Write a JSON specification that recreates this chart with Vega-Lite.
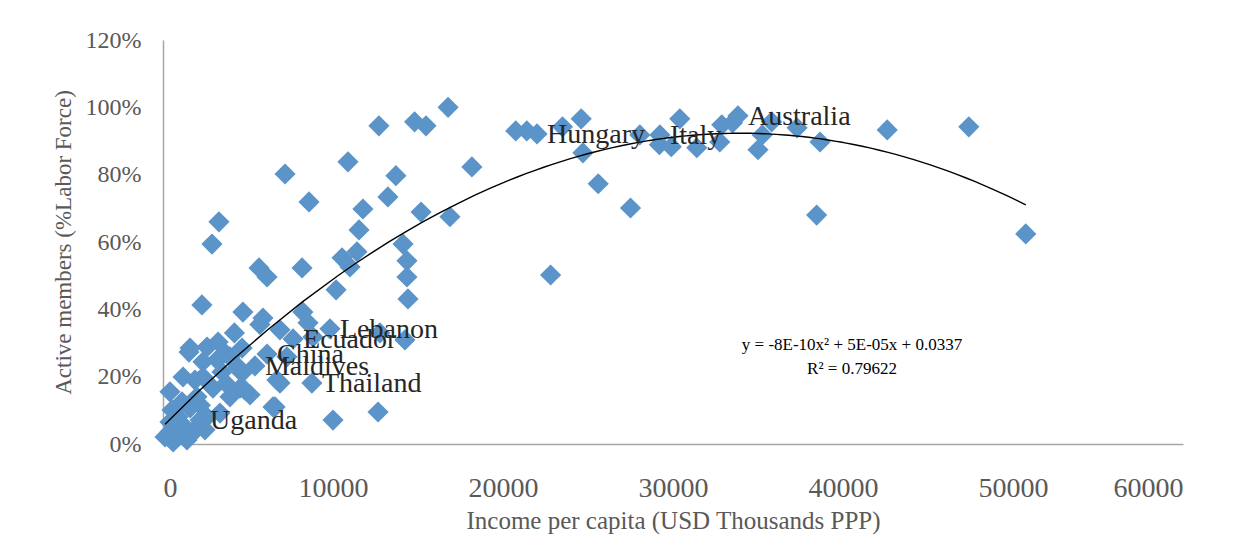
{
  "$schema": "https://vega.github.io/schema/vega-lite/v6.json",
  "autosize": {"type": "none"},
  "padding": {"left": 163, "top": 40, "right": 77, "bottom": 95},
  "width": 1020,
  "height": 404,
  "background": "white",
  "config": {
    "view": {"stroke": null},
    "font": "Liberation Serif",
    "axis": {"labelFont": "Liberation Serif", "titleFont": "Liberation Serif", "labelColor": "#595959", "titleColor": "#595959", "titleFontWeight": "normal", "domainColor": "#a6a6a6", "domainWidth": 1.5, "ticks": false, "grid": false}
  },
  "datasets": {
    "pts": [
      {"x": 16770, "y": 1.0}, {"x": 14800, "y": 0.957}, {"x": 15470, "y": 0.945}, {"x": 12700, "y": 0.945},
      {"x": 20750, "y": 0.93}, {"x": 21400, "y": 0.93}, {"x": 23500, "y": 0.942}, {"x": 24600, "y": 0.966},
      {"x": 24700, "y": 0.865}, {"x": 18170, "y": 0.823}, {"x": 10880, "y": 0.838}, {"x": 7180, "y": 0.802},
      {"x": 13700, "y": 0.797}, {"x": 8590, "y": 0.719}, {"x": 13230, "y": 0.734}, {"x": 11760, "y": 0.698},
      {"x": 11530, "y": 0.636}, {"x": 15180, "y": 0.689}, {"x": 16880, "y": 0.675}, {"x": 25600, "y": 0.773},
      {"x": 27500, "y": 0.701}, {"x": 22800, "y": 0.502}, {"x": 14120, "y": 0.594}, {"x": 14350, "y": 0.544},
      {"x": 14350, "y": 0.496}, {"x": 14410, "y": 0.431}, {"x": 28050, "y": 0.918}, {"x": 29200, "y": 0.889},
      {"x": 29900, "y": 0.883}, {"x": 30400, "y": 0.966}, {"x": 31400, "y": 0.88}, {"x": 32750, "y": 0.897},
      {"x": 32870, "y": 0.948}, {"x": 33500, "y": 0.954}, {"x": 35000, "y": 0.874}, {"x": 35250, "y": 0.918},
      {"x": 35800, "y": 0.957}, {"x": 37300, "y": 0.939}, {"x": 38650, "y": 0.897}, {"x": 38450, "y": 0.68},
      {"x": 42600, "y": 0.933}, {"x": 47400, "y": 0.942}, {"x": 50750, "y": 0.624}, {"x": 3290, "y": 0.66},
      {"x": 2880, "y": 0.594}, {"x": 5650, "y": 0.523}, {"x": 6120, "y": 0.496}, {"x": 8180, "y": 0.523},
      {"x": 10530, "y": 0.553}, {"x": 11000, "y": 0.526}, {"x": 11410, "y": 0.571}, {"x": 10180, "y": 0.458},
      {"x": 2290, "y": 0.413}, {"x": 4700, "y": 0.392}, {"x": 5880, "y": 0.374}, {"x": 6880, "y": 0.339},
      {"x": 8230, "y": 0.392}, {"x": 8530, "y": 0.36}, {"x": 12760, "y": 0.33}, {"x": 14230, "y": 0.309},
      {"x": 8820, "y": 0.318}, {"x": 7290, "y": 0.259}, {"x": 6880, "y": 0.181}, {"x": 6470, "y": 0.11},
      {"x": 10000, "y": 0.071}, {"x": 12650, "y": 0.095}, {"x": 5700, "y": 0.355},
      {"x": 1530, "y": 0.273}, {"x": 2590, "y": 0.288}, {"x": 3240, "y": 0.303}, {"x": 3650, "y": 0.27},
      {"x": 2350, "y": 0.244}, {"x": 3180, "y": 0.25}, {"x": 4650, "y": 0.211}, {"x": 3470, "y": 0.214},
      {"x": 4530, "y": 0.166}, {"x": 3940, "y": 0.14}, {"x": 5120, "y": 0.146}, {"x": 2940, "y": 0.166},
      {"x": 2000, "y": 0.14}, {"x": 410, "y": 0.155}, {"x": 1120, "y": 0.125}, {"x": 1590, "y": 0.107},
      {"x": 530, "y": 0.101}, {"x": 3350, "y": 0.092}, {"x": 2590, "y": 0.08}, {"x": 410, "y": 0.065},
      {"x": 1180, "y": 0.056}, {"x": 2000, "y": 0.05}, {"x": 410, "y": 0.036}, {"x": 820, "y": 0.021},
      {"x": 1410, "y": 0.012}, {"x": 1760, "y": 0.033}, {"x": 2470, "y": 0.042}, {"x": 120, "y": 0.021},
      {"x": 6700, "y": 0.19}, {"x": 6590, "y": 0.11}, {"x": 1590, "y": 0.285}, {"x": 4650, "y": 0.285},
      {"x": 3940, "y": 0.259}, {"x": 4410, "y": 0.229}, {"x": 4820, "y": 0.16}, {"x": 2350, "y": 0.199},
      {"x": 1880, "y": 0.19}, {"x": 1180, "y": 0.199}, {"x": 880, "y": 0.08}, {"x": 1400, "y": 0.03},
      {"x": 2200, "y": 0.115}, {"x": 600, "y": 0.006}, {"x": 4200, "y": 0.33}, {"x": 3700, "y": 0.18},
      {"x": 2180, "y": 0.071, "label": "Uganda"},
      {"x": 8760, "y": 0.181, "label": "Thailand"},
      {"x": 5410, "y": 0.232, "label": "Maldives"},
      {"x": 6120, "y": 0.267, "label": "China"},
      {"x": 7650, "y": 0.312, "label": "Ecuador"},
      {"x": 9820, "y": 0.342, "label": "Lebanon"},
      {"x": 22000, "y": 0.921, "label": "Hungary"},
      {"x": 29230, "y": 0.918, "label": "Italy"},
      {"x": 33820, "y": 0.975, "label": "Australia"}
    ],
    "eq": [
      {"x": 40530, "y": 0.294, "text": "y = -8E-10x² + 5E-05x + 0.0337"},
      {"x": 40530, "y": 0.222, "text": "R² = 0.79622"}
    ]
  },
  "layer": [
    {
      "data": {"name": "pts"},
      "mark": {"type": "point", "shape": "diamond", "filled": true, "size": 450, "color": "#5b94c9", "opacity": 1, "strokeWidth": 0},
      "encoding": {
        "x": {"field": "x", "type": "quantitative", "scale": {"domain": [0, 60000], "nice": false, "zero": false},
          "axis": {"values": [0, 10000, 20000, 30000, 40000, 50000, 60000], "format": "d", "labelFontSize": 28, "labelPadding": 30, "title": "Income per capita (USD Thousands PPP)", "titleFontSize": 25, "titlePadding": 6}},
        "y": {"field": "y", "type": "quantitative", "scale": {"domain": [0, 1.2], "nice": false},
          "axis": {"values": [0, 0.2, 0.4, 0.6, 0.8, 1.0, 1.2], "format": ".0%", "labelFontSize": 24, "labelPadding": 22, "title": "Active members (%Labor Force)", "titleFontSize": 23, "titlePadding": 10}}
      }
    },
    {
      "data": {"name": "pts"},
      "transform": [{"regression": "y", "on": "x", "method": "poly", "order": 2}],
      "mark": {"type": "line", "color": "#000000", "strokeWidth": 1.4},
      "encoding": {
        "x": {"field": "x", "type": "quantitative"},
        "y": {"field": "y", "type": "quantitative"}
      }
    },
    {
      "data": {"name": "pts"},
      "transform": [{"filter": "datum.label != null"}],
      "mark": {"type": "text", "align": "left", "baseline": "middle", "dx": 10, "dy": 1, "font": "Liberation Serif", "fontSize": 28, "color": "#262626"},
      "encoding": {
        "x": {"field": "x", "type": "quantitative"},
        "y": {"field": "y", "type": "quantitative"},
        "text": {"field": "label"}
      }
    },
    {
      "data": {"name": "eq"},
      "mark": {"type": "text", "align": "center", "baseline": "middle", "font": "Liberation Serif", "fontSize": 17, "color": "#000000"},
      "encoding": {
        "x": {"field": "x", "type": "quantitative"},
        "y": {"field": "y", "type": "quantitative"},
        "text": {"field": "text"}
      }
    }
  ]
}
